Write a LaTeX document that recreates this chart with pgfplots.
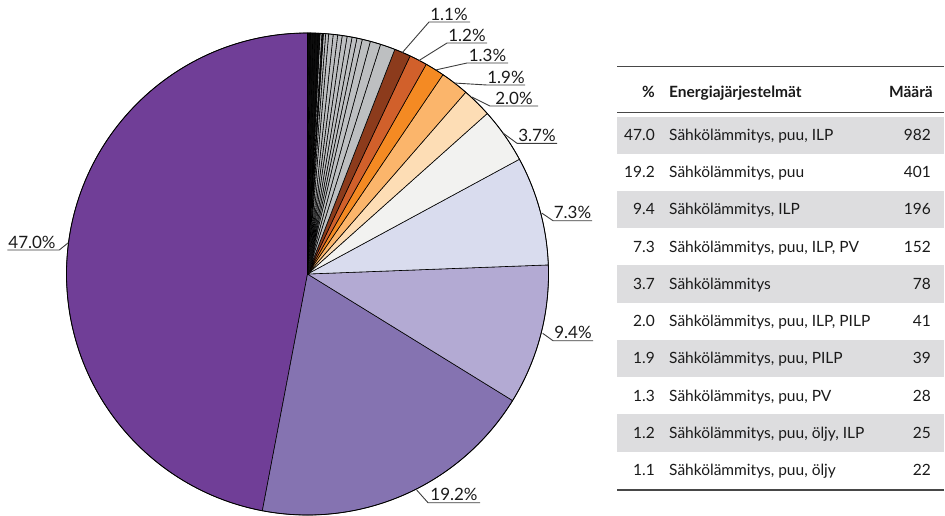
\documentclass[border=0pt]{standalone}
\usepackage{pgfplots}
\pgfplotsset{compat=1.18}
\usepackage{fontspec}
\setmainfont{Lato}
\definecolor{pA}{HTML}{703E97}
\definecolor{pB}{HTML}{8573B1}
\definecolor{pC}{HTML}{B3AAD3}
\definecolor{pD}{HTML}{D9DCEE}
\definecolor{pE}{HTML}{F2F2F0}
\definecolor{pF}{HTML}{FDDDB5}
\definecolor{pG}{HTML}{FBB56B}
\definecolor{pH}{HTML}{F48A23}
\definecolor{pI}{HTML}{D1602B}
\definecolor{pJ}{HTML}{8C3B1C}
\definecolor{gr}{HTML}{BDBFC1}
\definecolor{blk}{HTML}{0D0D0D}
\definecolor{band}{HTML}{DDDDDF}
\definecolor{txt}{HTML}{1A1A1A}
% percent / colour, counter-clockwise from 12 o'clock
\def\piedata{47.0/pA, 19.2/pB, 9.4/pC, 7.3/pD, 3.7/pE, 2.0/pF, 1.9/pG, 1.3/pH, 1.2/pI, 1.1/pJ,
 1.0/gr, 0.7/gr, 0.55/gr, 0.36/gr, 0.33/gr, 0.33/gr, 0.33/gr, 0.3/gr, 0.3/gr, 0.3/gr, 0.2/gr,
 0.15/gr, 0.1/blk, 0.12/gr, 0.13/blk, 0.2/blk, 0.15/blk, 0.15/blk, 0.1/blk, 0.1/blk}
% table rows: percent / name / count
\def\tabledata{47.0/{Sähkölämmitys, puu, ILP}/982, 19.2/{Sähkölämmitys, puu}/401, 9.4/{Sähkölämmitys, ILP}/196,
 7.3/{Sähkölämmitys, puu, ILP, PV}/152, 3.7/{Sähkölämmitys}/78, 2.0/{Sähkölämmitys, puu, ILP, PILP}/41,
 1.9/{Sähkölämmitys, puu, PILP}/39, 1.3/{Sähkölämmitys, puu, PV}/28, 1.2/{Sähkölämmitys, puu, öljy, ILP}/25,
 1.1/{Sähkölämmitys, puu, öljy}/22}
\begin{document}
\begin{tikzpicture}
\begin{axis}[width=945pt, height=515pt, scale only axis, xmin=0, xmax=945, ymin=0, ymax=515,
  y dir=reverse, hide axis, clip=false]
% pie
\foreach \p/\c [remember=\e as \s (initially 90)] in \piedata {
  \pgfmathsetmacro{\e}{\s+3.6*\p}
  \edef\temp{\noexpand\filldraw[fill=\c, draw=black, line width=0.6pt, line join=round]
    (axis cs:307.5,274) -- ++(\s:241pt) arc[start angle=\s, end angle=\e, radius=241pt] -- cycle;}
  \temp
}
\draw[black, line width=0.8pt] (axis cs:307.5,274) circle[radius=241pt];
% labels
\foreach \ex/\ey/\ux/\uy/\vx/\lab in {
  402.4/52.5/429/22/470/{1.1\%},
  419/60.5/447/43/487/{1.2\%},
  435.5/70/467/63/508/{1.3\%},
  454/83/487/85/525/{1.9\%},
  472/97/490/106/538/{2.0\%},
  503/133/517/143.3/557/{3.7\%},
  541.7/213/553/220.7/592/{7.3\%},
  542.7/333.3/553/340.7/593/{9.4\%},
  416.7/490/428/502.7/480/{19.2\%},
  68.3/242.7/59.3/250/7.3/{47.0\%}} {
  \edef\temp{\noexpand\draw[txt!85, line width=0.9pt] (axis cs:\ex,\ey) -- (axis cs:\ux,\uy) -- (axis cs:\vx,\uy);}
  \temp
}
\foreach \x/\y/\lab in {449/20/{1.1\%}, 467/41/{1.2\%}, 487.5/61/{1.3\%}, 506/83/{1.9\%}, 514/104/{2.0\%},
  537/141.3/{3.7\%}, 572.5/218.7/{7.3\%}, 573/338.7/{9.4\%}, 454/500.7/{19.2\%}, 32/248/{47.0\%}} {
  \edef\temp{\noexpand\node[anchor=base, font=\noexpand\fontsize{17}{20}\noexpand\selectfont, text=txt, inner sep=0pt] at (axis cs:\x,\y) {\lab};}
  \temp
}
% table
\foreach \i in {0,2,4,6,8} {
  \edef\temp{\noexpand\fill[band] (axis cs:617,{116.6+37.22*\i}) rectangle (axis cs:944,{116.6+37.22*(\i+1)});}
  \temp
}
\draw[txt!80, line width=1.2pt] (axis cs:617,66.7) -- (axis cs:944,66.7);
\draw[txt!80, line width=1.2pt] (axis cs:617,112.7) -- (axis cs:944,112.7);
\draw[txt!80, line width=1.2pt] (axis cs:617,490) -- (axis cs:944,490);
\node[anchor=base east, font=\fontsize{15.5}{18}\selectfont\bfseries, text=txt, inner sep=0pt] at (axis cs:655,97.5) {\%};
\node[anchor=base west, font=\fontsize{15.5}{18}\selectfont\bfseries, text=txt, inner sep=0pt] at (axis cs:669,97.5) {Energiajärjestelmät};
\node[anchor=base east, font=\fontsize{15.5}{18}\selectfont\bfseries, text=txt, inner sep=0pt] at (axis cs:933,97.5) {Määrä};
\foreach \pc/\nm/\n [count=\k from 0] in \tabledata {
  \pgfmathsetmacro{\yy}{135+37.22*\k+5.5}
  \edef\temp{\noexpand\node[anchor=base east, font=\noexpand\fontsize{15.5}{18}\noexpand\selectfont, text=txt, inner sep=0pt] at (axis cs:655,\yy) {\pc};
    \noexpand\node[anchor=base west, font=\noexpand\fontsize{15.5}{18}\noexpand\selectfont, text=txt, inner sep=0pt] at (axis cs:669,\yy) {\nm};
    \noexpand\node[anchor=base east, font=\noexpand\fontsize{15.5}{18}\noexpand\selectfont, text=txt, inner sep=0pt] at (axis cs:931,\yy) {\n};}
  \temp
}
\end{axis}
\pgfresetboundingbox
\path[use as bounding box] (current axis.south west) rectangle (current axis.north east);
\end{tikzpicture}
\end{document}
